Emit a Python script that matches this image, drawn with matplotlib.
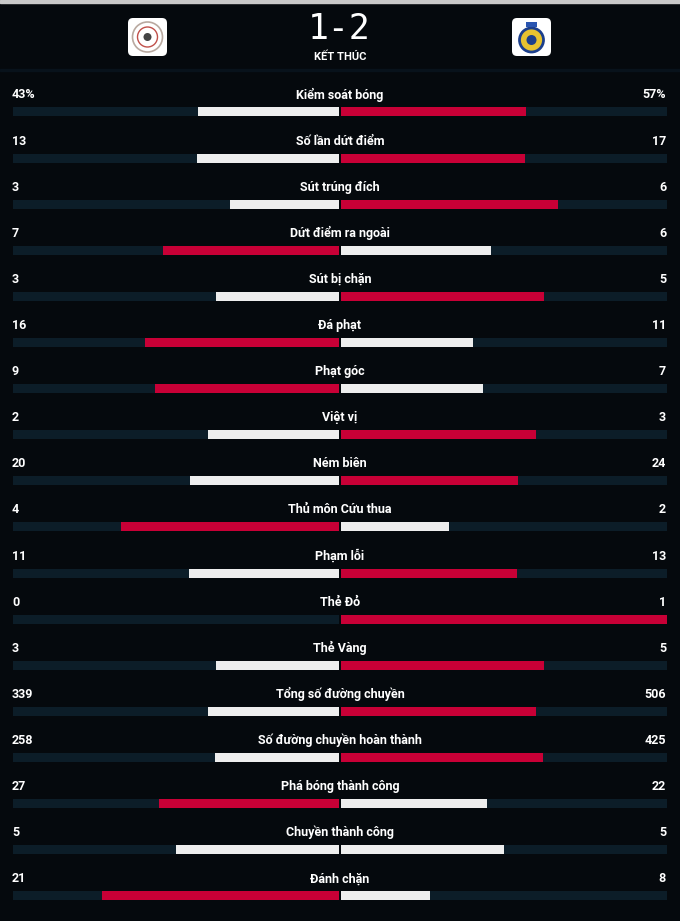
import matplotlib
matplotlib.use("Agg")
from matplotlib import pyplot as plt
from matplotlib.patches import FancyBboxPatch, Circle, Rectangle

plt.rcParams['font.family'] = ['Roboto', 'DejaVu Sans']

labels = ["Kiểm soát bóng", "Số lần dứt điểm", "Sút trúng đích", "Dứt điểm ra ngoài",
          "Sút bị chặn", "Đá phạt", "Phạt góc", "Việt vị", "Ném biên",
          "Thủ môn Cứu thua", "Phạm lỗi", "Thẻ Đỏ", "Thẻ Vàng",
          "Tổng số đường chuyền", "Số đường chuyền hoàn thành",
          "Phá bóng thành công", "Chuyền thành công", "Đánh chặn"]
home = [43, 13, 3, 7, 3, 16, 9, 2, 20, 4, 11, 0, 3, 339, 258, 27, 5, 21]
away = [57, 17, 6, 6, 5, 11, 7, 3, 24, 2, 13, 1, 5, 506, 425, 22, 5, 8]
home_txt = ["43%"] + [str(v) for v in home[1:]]
away_txt = ["57%"] + [str(v) for v in away[1:]]

bg = "#05090d"
track = "#0c1d28"
red = "#c80036"
white = "#eeeeee"

fig = plt.figure(figsize=(6.8, 9.21), dpi=100, facecolor=bg)
ax = fig.add_axes([0, 0, 1, 1])
ax.set_xlim(0, 680)
ax.set_ylim(921, 0)
ax.axis("off")
ax.set_facecolor(bg)

# header
ax.add_patch(Rectangle((0, 0), 680, 3, color="#c9c9c9"))
ax.add_patch(Rectangle((0, 69), 680, 2, color="#08121b"))
ax.text(339, 29, "1-2", color="white", fontsize=25, ha="center", va="center",
        family="DejaVu Sans Mono")
ax.text(340, 57, "KẾT THÚC", color="white", fontsize=8, fontweight="bold",
        ha="center", va="center")

ax.add_patch(FancyBboxPatch((128, 18), 39, 38, boxstyle="round,pad=0,rounding_size=5",
                            fc="white", ec="none"))
ax.add_patch(Circle((147.5, 37), 15, fc="white", ec="#b9a9a0", lw=1.2))
ax.add_patch(Circle((147.5, 37), 10, fc="white", ec="#c0504a", lw=1.0))
ax.add_patch(Circle((147.5, 37), 4, fc="#444444", ec="none"))

ax.add_patch(FancyBboxPatch((512, 18), 39, 38, boxstyle="round,pad=0,rounding_size=5",
                            fc="white", ec="none"))
ax.add_patch(Circle((531.5, 40), 12, fc="#e8c330", ec="#1c3f8c", lw=2))
ax.add_patch(Circle((531.5, 40), 5, fc="#1c3f8c", ec="none"))
ax.add_patch(Rectangle((526, 22), 11, 5, fc="#2a55b0", ec="none"))

# stat rows
left_c, right_c = 338.5, 340.5
half = 326
n = len(labels)
ys = [95 + 46.1 * i for i in range(n)]
bar_y = [y + 17 for y in ys]

ax.barh(bar_y, [-half] * n, left=left_c, height=9, color=track)
ax.barh(bar_y, [half] * n, left=right_c, height=9, color=track)

for i in range(n):
    tot = home[i] + away[i]
    hc = red if home[i] > away[i] else white
    ac = red if away[i] > home[i] else white
    ax.barh(bar_y[i], -half * home[i] / tot, left=left_c, height=9, color=hc)
    ax.barh(bar_y[i], half * away[i] / tot, left=right_c, height=9, color=ac)
    ax.text(340, ys[i], labels[i], color="white", fontsize=9, fontweight="bold",
            ha="center", va="center")
    ax.text(12, ys[i], home_txt[i], color="white", fontsize=9, fontweight="bold",
            ha="left", va="center")
    ax.text(666, ys[i], away_txt[i], color="white", fontsize=9, fontweight="bold",
            ha="right", va="center")

fig.savefig("out.png", dpi=100, facecolor=bg)
